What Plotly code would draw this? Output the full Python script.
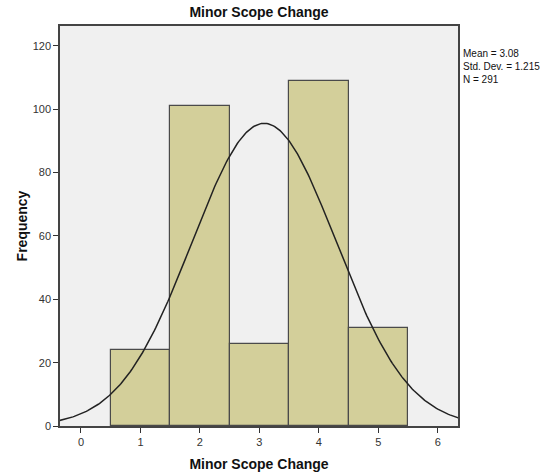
import numpy as np
import plotly.graph_objects as go

categories = [1, 2, 3, 4, 5]
frequencies = [24, 101, 26, 109, 31]
mean_val = 3.08
std_val = 1.215
n_val = 291
x_ticks = [0, 1, 2, 3, 4, 5, 6]
y_ticks = [0, 20, 40, 60, 80, 100, 120]

xs = np.linspace(-0.36, 6.36, 300)
ys = n_val * 1.0 / (std_val * np.sqrt(2 * np.pi)) * np.exp(-0.5 * ((xs - mean_val) / std_val) ** 2)

fig = go.Figure()
fig.add_trace(go.Bar(x=categories, y=frequencies, width=1.0,
                     marker=dict(color="#D3CF9A", line=dict(color="#4a4a4a", width=1.2)),
                     hoverinfo="x+y"))
fig.add_trace(go.Scatter(x=xs, y=ys, mode="lines", line=dict(color="#222222", width=1.5),
                         hoverinfo="skip"))

fig.update_layout(
    width=550, height=476,
    margin=dict(l=60, r=92, t=26, b=50),
    paper_bgcolor="white", plot_bgcolor="#F0F0F0",
    showlegend=False,
    font=dict(family="Liberation Sans, Arial, sans-serif", color="#222222", size=11),
    title=dict(text="<b>Minor Scope Change</b>", x=0.5, xref="paper", xanchor="center",
               y=1 - 12/476, yanchor="middle", font=dict(size=14, color="#111111")),
    xaxis=dict(range=[-0.353, 6.34], tickvals=x_ticks, ticks="outside", ticklen=5,
               tickcolor="#333333", showgrid=False, zeroline=False, automargin=False,
               showline=True, linecolor="#444444", linewidth=1.5, mirror=True,
               tickfont=dict(size=11, color="#333333"),
               title=dict(text="<b>Minor Scope Change</b>", font=dict(size=14, color="#111111"), standoff=12)),
    yaxis=dict(range=[0, 126.3], tickvals=y_ticks, ticks="outside", ticklen=5,
               tickcolor="#333333", showgrid=False, zeroline=False, automargin=False,
               showline=True, linecolor="#444444", linewidth=1.5, mirror=True,
               tickfont=dict(size=11, color="#333333"),
               title=dict(text="<b>Frequency</b>", font=dict(size=14, color="#111111"), standoff=2)),
    bargap=0,
)
fig.add_annotation(x=1.0, xref="paper", xshift=3, y=1 - 20/400, yref="paper",
                   xanchor="left", yanchor="top", align="left", showarrow=False,
                   text=f"Mean = {mean_val:.2f}<br>Std. Dev. = {std_val:.3f}<br>N = {n_val}",
                   font=dict(size=10, color="#111111"))

fig.write_html("out.html", config={"displayModeBar": False},
               post_script="document.body.style.margin='0px';")
